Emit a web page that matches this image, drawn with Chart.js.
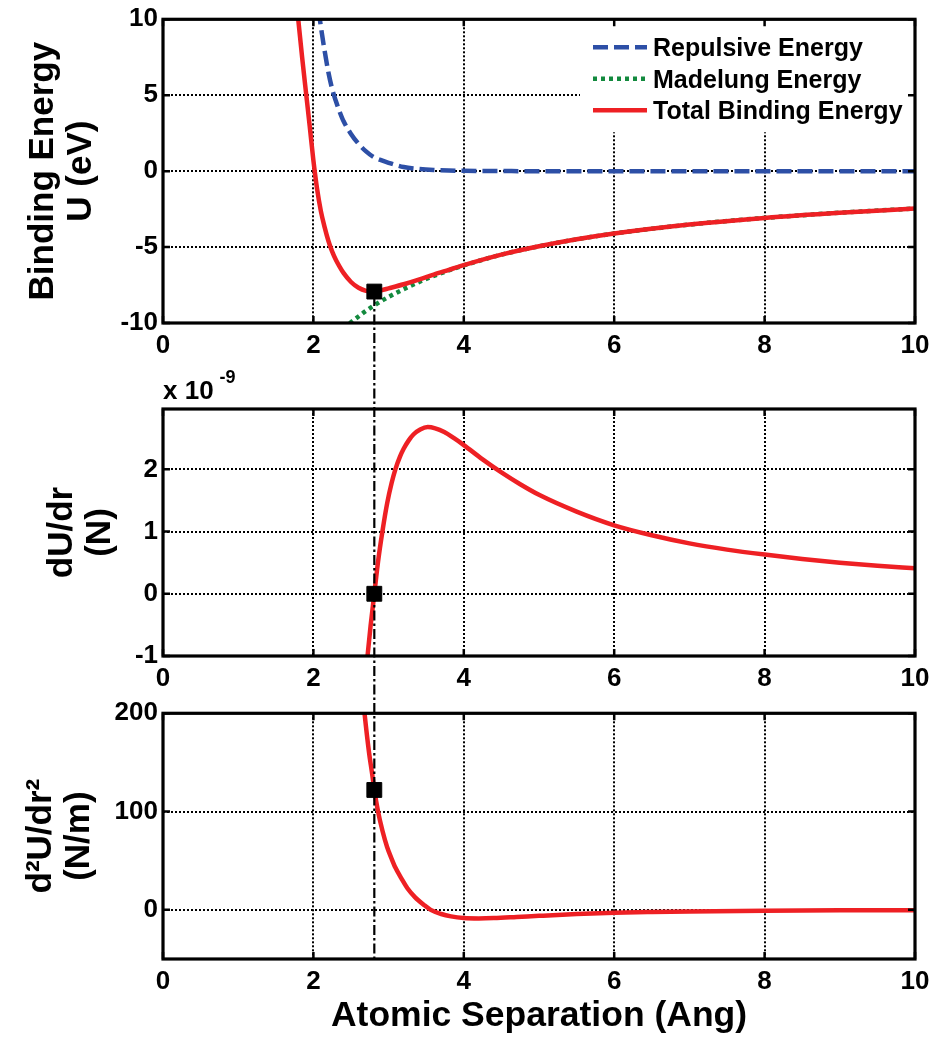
<!DOCTYPE html>
<html>
<head>
<meta charset="utf-8">
<script src="https://cdn.jsdelivr.net/npm/chart.js@4.4.1/dist/chart.umd.min.js"></script>
<style>
  html, body { margin: 0; padding: 0; background: #fff; }
  #wrap { position: relative; width: 933px; height: 1038px; background: #fff; }
  canvas { position: absolute; left: 0; }
</style>
</head>
<body>
<div id="wrap">
  <canvas id="c1" width="933" height="361" style="top:0px"></canvas>
  <canvas id="c2" width="933" height="333" style="top:361px"></canvas>
  <canvas id="c3" width="933" height="344" style="top:694px"></canvas>
</div>
<script>
// ---------------- data ----------------
const xTicks = [0, 2, 4, 6, 8, 10];

// Panel 1: binding energy U (eV) versus atomic separation r (Ang)
const rRep = [2.00, 2.05, 2.10, 2.15, 2.20, 2.25, 2.30, 2.35, 2.40, 2.50, 2.60, 2.70, 2.80, 2.90, 3.00, 3.20, 3.40, 3.60, 3.80, 4.00, 4.50, 5.00, 6.00, 7.00, 8.00, 9.00, 10.00];
const uRep = [13.4, 11.3, 9.5, 7.9, 6.5, 5.4, 4.6, 3.9, 3.3, 2.45, 1.8, 1.3, 0.93, 0.72, 0.55, 0.27, 0.15, 0.08, 0.04, 0.02, 0.005, 0, 0, 0, 0, 0, 0];

const rMad = [2.40, 2.50, 2.60, 2.70, 2.80, 2.90, 3.00, 3.20, 3.40, 3.60, 3.80, 4.00, 4.50, 5.00, 5.50, 6.00, 7.00, 8.00, 9.00, 10.00];
const uMad = [-10.35, -9.95, -9.57, -9.2, -8.87, -8.56, -8.28, -7.77, -7.31, -6.9, -6.54, -6.21, -5.5, -4.95, -4.49, -4.11, -3.52, -3.08, -2.74, -2.46];

const rTot = [1.70, 1.75, 1.79, 1.85, 1.91, 1.95, 2.00, 2.05, 2.10, 2.15, 2.20, 2.25, 2.30, 2.35, 2.40, 2.50, 2.60, 2.70, 2.80, 2.90, 3.00, 3.20, 3.40, 3.60, 3.80, 4.00, 4.50, 5.00, 5.50, 6.00, 7.00, 8.00, 9.00, 10.00];
const uTot = [14.9, 12.4, 10.4, 7.5, 4.8, 3.0, 0.7, -1.2, -2.65, -3.7, -4.6, -5.3, -5.85, -6.3, -6.7, -7.3, -7.68, -7.88, -7.93, -7.85, -7.72, -7.45, -7.14, -6.81, -6.5, -6.19, -5.5, -4.95, -4.49, -4.11, -3.52, -3.08, -2.74, -2.46];

const yTicksU = [-10, -5, 0, 5, 10];

// Panel 2: dU/dr (units of 1e-9 N)
const rForce = [2.68, 2.72, 2.76, 2.81, 2.86, 2.92, 2.98, 3.04, 3.09, 3.15, 3.20, 3.27, 3.33, 3.42, 3.52, 3.62, 3.74, 3.87, 4.00, 4.25, 4.50, 4.75, 5.00, 5.50, 6.00, 6.50, 7.00, 7.50, 8.00, 8.50, 9.00, 9.50, 10.00];
const force  = [-1.5, -1.0, -0.52, 0.0, 0.52, 1.02, 1.45, 1.78, 2.0, 2.2, 2.33, 2.47, 2.56, 2.64, 2.68, 2.66, 2.6, 2.5, 2.39, 2.16, 1.95, 1.76, 1.59, 1.32, 1.10, 0.94, 0.81, 0.71, 0.63, 0.56, 0.50, 0.45, 0.41];
const yTicksF = [-1, 0, 1, 2];
const forceExponent = -9;

// Panel 3: d2U/dr2 (N/m)
const rStiff = [2.64, 2.68, 2.74, 2.78, 2.81, 2.86, 2.92, 2.98, 3.04, 3.09, 3.17, 3.25, 3.35, 3.47, 3.56, 3.70, 3.83, 4.00, 4.20, 4.40, 4.70, 5.00, 5.50, 6.00, 6.50, 7.00, 8.00, 9.00, 10.00];
const stiff  = [232, 200, 160, 139, 122, 100, 80, 64, 52, 43, 32, 22, 13, 5, 0, -4.2, -6.6, -8.3, -8.7, -8.4, -7.3, -6.1, -4.3, -3.0, -2.2, -1.6, -0.9, -0.5, -0.3];
const yTicksK = [0, 100, 200];

// equilibrium point markers
const r0 = [2.81];
const u0 = [-7.93];
const f0 = [0];
const k0 = [122];

// ---------------- styling ----------------
const FF = "'Liberation Sans', Arial, Helvetica, sans-serif";
const RED = '#ee2024';
const BLUE = '#2d4fa6';
const GREEN = '#138a3e';

function pts(xs, ys) { return xs.map((x, i) => ({ x: x, y: ys[i] })); }

function lineDs(label, xs, ys, color, dash, order) {
  return {
    label: label, data: pts(xs, ys), borderColor: color, backgroundColor: color,
    borderWidth: 4.5, borderDash: dash, borderCapStyle: 'butt', pointRadius: 0,
    cubicInterpolationMode: 'monotone', fill: false, order: order
  };
}
function markerDs(xs, ys) {
  return {
    data: pts(xs, ys), showLine: false, pointStyle: 'rect', pointRadius: 10.5,
    pointBackgroundColor: '#000', pointBorderColor: '#000', pointBorderWidth: 1,
    order: 0, clip: false
  };
}

function framePlugin(cfg) {
  return {
    id: 'frame_' + cfg.id,
    afterDatasetsDraw(chart) {
      const ctx = chart.ctx, a = chart.chartArea;
      const xs = chart.scales.x, ys = chart.scales.y;
      ctx.save();
      // dash-dot guide at equilibrium separation
      const gx = xs.getPixelForValue(r0[0]);
      const gy0 = cfg.guideFrom === 'marker' ? ys.getPixelForValue(u0[0]) : 0;
      const gy1 = cfg.guideTo === 'area' ? a.bottom : chart.height;
      ctx.beginPath();
      ctx.setLineDash([10, 3, 2.5, 3]);
      ctx.lineDashOffset = cfg.top + gy0;
      ctx.strokeStyle = '#000';
      ctx.lineWidth = 2.2;
      ctx.moveTo(gx, gy0);
      ctx.lineTo(gx, gy1);
      ctx.stroke();
      ctx.setLineDash([]);
      ctx.lineDashOffset = 0;

      // legend (inside, top right)
      if (cfg.legend) {
        ctx.fillStyle = '#fff';
        ctx.fillRect(a.right - 335, a.top + 2, 333, 111);
        const items = chart.data.datasets.filter(d => d.label);
        items.forEach((d, i) => {
          const cy = a.top + 28 + i * 31.5;
          ctx.beginPath();
          ctx.setLineDash(d.borderDash || []);
          ctx.strokeStyle = d.borderColor;
          ctx.lineWidth = d.borderWidth;
          ctx.moveTo(a.right - 322, cy);
          ctx.lineTo(a.right - 268, cy);
          ctx.stroke();
          ctx.setLineDash([]);
          ctx.fillStyle = '#000';
          ctx.font = 'bold 25px ' + FF;
          ctx.textBaseline = 'middle';
          ctx.textAlign = 'left';
          ctx.fillText(d.label, a.right - 262, cy + 2);
        });
      }

      // exponent label
      if (cfg.exponent !== undefined) {
        ctx.fillStyle = '#000';
        ctx.textBaseline = 'alphabetic';
        ctx.textAlign = 'left';
        ctx.font = 'bold 26px ' + FF;
        const base = 'x 10';
        ctx.fillText(base, a.left, a.top - 10);
        const w = ctx.measureText(base).width;
        ctx.font = 'bold 18px ' + FF;
        ctx.fillText(String(cfg.exponent), a.left + w + 6, a.top - 26);
      }

      // inward tick marks
      ctx.strokeStyle = '#000';
      ctx.lineWidth = 2.5;
      ctx.beginPath();
      xs.ticks.forEach(t => {
        const px = xs.getPixelForValue(t.value);
        ctx.moveTo(px, a.bottom); ctx.lineTo(px, a.bottom - 7);
        ctx.moveTo(px, a.top); ctx.lineTo(px, a.top + 7);
      });
      ys.ticks.forEach(t => {
        const py = ys.getPixelForValue(t.value);
        ctx.moveTo(a.left, py); ctx.lineTo(a.left + 7, py);
        ctx.moveTo(a.right, py); ctx.lineTo(a.right - 7, py);
      });
      ctx.stroke();

      // box
      ctx.lineWidth = 3.2;
      ctx.strokeRect(a.left, a.top, a.right - a.left, a.bottom - a.top);
      ctx.restore();
    }
  };
}

function makeChart(id, cfg) {
  const tickFont = { family: FF, size: 26, weight: 'bold', lineHeight: 1.1 };
  const titleFont = { family: FF, size: 35, weight: 'bold', lineHeight: 38 / 35 };
  return new Chart(document.getElementById(id), {
    type: 'line',
    data: { datasets: cfg.datasets },
    options: {
      responsive: false,
      animation: false,
      devicePixelRatio: 1,
      events: [],
      layout: { padding: { top: cfg.padTop, right: 18, bottom: 0, left: 0 } },
      plugins: { legend: { display: false }, tooltip: { enabled: false } },
      scales: {
        x: {
          type: 'linear', min: 0, max: 10,
          afterBuildTicks: s => { s.ticks = xTicks.map(v => ({ value: v })); },
          afterFit: s => { s.height = cfg.xHeight; s.paddingLeft = 0; s.paddingRight = 0; },
          grid: { color: '#000', lineWidth: 2, drawTicks: false },
          border: { display: false, dash: [2, 2] },
          ticks: { color: '#000', font: tickFont, padding: 9, maxRotation: 0, autoSkip: false, callback: v => String(v) },
          title: cfg.xTitle ? {
            display: true, text: cfg.xTitle, color: '#000',
            font: { family: FF, size: 35.5, weight: 'bold', lineHeight: 1 },
            padding: { top: 0, bottom: 4 }
          } : { display: false }
        },
        y: {
          type: 'linear', min: cfg.yMin, max: cfg.yMax,
          afterBuildTicks: s => { s.ticks = cfg.yTicks.map(v => ({ value: v })); },
          afterFit: s => { s.width = 163; },
          grid: { color: '#000', lineWidth: 2, drawTicks: false },
          border: { display: false, dash: [2, 2] },
          ticks: { color: '#000', font: tickFont, padding: 5, callback: v => String(v) },
          title: {
            display: true, text: cfg.yTitle, color: '#000', font: titleFont,
            padding: { top: cfg.yTitlePad, bottom: 0 }
          }
        }
      }
    },
    plugins: [framePlugin(cfg)]
  });
}

makeChart('c1', {
  id: 1, top: 0, padTop: 19, xHeight: 38,
  yMin: -10, yMax: 10, yTicks: yTicksU,
  yTitle: ['Binding Energy', 'U (eV)'], yTitlePad: 24.5,
  guideFrom: 'marker', guideTo: 'canvas', legend: true,
  datasets: [
    lineDs('Repulsive Energy', rRep, uRep, BLUE, [15, 6], 3),
    lineDs('Madelung Energy', rMad, uMad, GREEN, [4, 4], 2),
    lineDs('Total Binding Energy', rTot, uTot, RED, [], 1),
    markerDs(r0, u0)
  ]
});

makeChart('c2', {
  id: 2, top: 361, padTop: 48, xHeight: 38,
  yMin: -1, yMax: 2.97, yTicks: yTicksF,
  yTitle: ['dU/dr', '(N)'], yTitlePad: 43.5,
  guideFrom: 'top', guideTo: 'canvas', exponent: forceExponent,
  datasets: [
    lineDs('', rForce, force, RED, [], 1),
    markerDs(r0, f0)
  ]
});

makeChart('c3', {
  id: 3, top: 694, padTop: 16, xHeight: 79,
  yMin: -50, yMax: 200, yTicks: yTicksK,
  yTitle: ['d\u00B2U/dr\u00B2', '(N/m)'], yTitlePad: 22,
  xTitle: 'Atomic Separation (Ang)',
  guideFrom: 'top', guideTo: 'area',
  datasets: [
    lineDs('', rStiff, stiff, RED, [], 1),
    markerDs(r0, k0)
  ]
});
</script>
</body>
</html>
